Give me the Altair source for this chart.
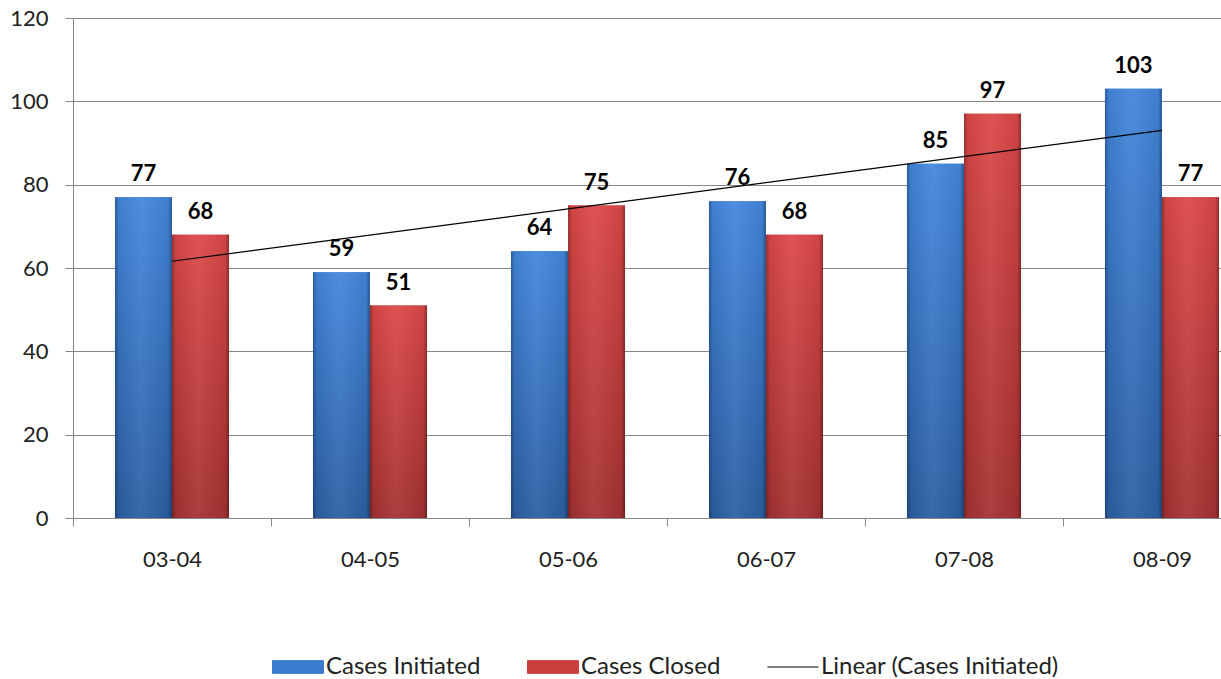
import altair as alt
import pandas as pd

periods = ["03-04", "04-05", "05-06", "06-07", "07-08", "08-09"]
initiated = [77, 59, 64, 76, 85, 103]
closed = [68, 51, 75, 68, 97, 77]
series_names = ["Cases Initiated", "Cases Closed"]
trend_name = "Linear (Cases Initiated)"

rows = []
for i, (p, a, b) in enumerate(zip(periods, initiated, closed)):
    rows.append({"period": p, "idx": i + 1, "series": series_names[0], "value": a})
    rows.append({"period": p, "idx": i + 1, "series": series_names[1], "value": b})
df = pd.DataFrame(rows)

W, H = 1148, 500
STEP = 198
FONT = "Lato"
GRID = "#878787"
TXT = "#222222"

blue_grad = {"gradient": "linear", "x1": 0, "y1": 0, "x2": 0, "y2": 1,
             "stops": [{"offset": 0, "color": "#4387dc"},
                       {"offset": 1, "color": "#2c5fa3"}]}
red_grad = {"gradient": "linear", "x1": 0, "y1": 0, "x2": 0, "y2": 1,
            "stops": [{"offset": 0, "color": "#dc4848"},
                      {"offset": 1, "color": "#a53232"}]}
edge_grad = {"gradient": "linear", "x1": 0, "y1": 0, "x2": 1, "y2": 0,
             "stops": [{"offset": 0, "color": "rgba(0,0,0,0.30)"},
                       {"offset": 0.07, "color": "rgba(0,0,0,0.06)"},
                       {"offset": 0.45, "color": "rgba(255,255,255,0.06)"},
                       {"offset": 0.93, "color": "rgba(0,0,0,0.06)"},
                       {"offset": 1, "color": "rgba(0,0,0,0.35)"}]}

x_enc = alt.X(
    "period:N", sort=periods, title=None,
    scale=alt.Scale(domain=periods, paddingInner=0.424, paddingOuter=0.111, align=0.955),
    axis=alt.Axis(bandPosition=0, tickOffset=-42, labelOffset=42, labelAngle=0,
                  labelFontSize=22, labelFont=FONT, labelColor=TXT, labelPadding=23,
                  tickSize=8, tickColor=GRID, domainColor=GRID, grid=False),
)
xoff_enc = alt.XOffset("series:N", scale=alt.Scale(domain=series_names, paddingInner=0, paddingOuter=0))
y_enc = alt.Y(
    "value:Q", title=None,
    scale=alt.Scale(domain=[0, 120], nice=False),
    axis=alt.Axis(values=[0, 20, 40, 60, 80, 100, 120], labelFontSize=22, labelFont=FONT,
                  labelColor=TXT, labelPadding=17, tickSize=8, tickColor=GRID,
                  domainColor=GRID, gridColor=GRID, grid=True),
)
color_enc = alt.Color(
    "series:N",
    scale=alt.Scale(domain=series_names + [trend_name], range=["#3b7bd0", "#cc3d3d", "#000000"]),
    legend=alt.Legend(
        title=None, orient="none", direction="horizontal", legendX=199, legendY=623,
        symbolType={"expr": f"datum.value === '{trend_name}' ? 'M-1,0H1' : 'M-1,-0.25H1V0.25H-1Z'"},
        symbolSize=2600, symbolStrokeWidth=1, symbolOpacity=1, labelLimit=400,
        labelFontSize=24, labelFont=FONT, labelColor=TXT, columnPadding=44, labelOffset=2,
    ),
)

base = alt.Chart(df)
bars_flat = base.mark_bar().encode(x=x_enc, xOffset=xoff_enc, y=y_enc, color=color_enc)
bars_blue = base.transform_filter(alt.datum.series == series_names[0]).mark_bar(fill=blue_grad).encode(
    x=x_enc, xOffset=xoff_enc, y=y_enc)
bars_red = base.transform_filter(alt.datum.series == series_names[1]).mark_bar(fill=red_grad).encode(
    x=x_enc, xOffset=xoff_enc, y=y_enc)
bars_edge = base.mark_bar(fill=edge_grad).encode(x=x_enc, xOffset=xoff_enc, y=y_enc)
labels = base.mark_text(font=FONT, fontSize=22, fontWeight="bold", baseline="alphabetic",
                        dy=-16, color="black").encode(x=x_enc, xOffset=xoff_enc, y=y_enc, text="value:Q")

bars_group = alt.layer(bars_flat, bars_blue, bars_red, bars_edge, labels)

trend = (
    base.transform_filter(alt.datum.series == series_names[0])
    .transform_regression("idx", "value", method="linear", extent=[1, 6])
    .transform_calculate(series=f"'{trend_name}'")
    .mark_line(strokeWidth=1.2)
    .encode(
        x=alt.X("idx:Q", scale=alt.Scale(domain=[0.5, 0.5 + W / STEP], nice=False, zero=False), axis=None),
        y=alt.Y("value:Q", scale=alt.Scale(domain=[0, 120], nice=False)),
        color=color_enc,
    )
)

chart = (
    alt.layer(bars_group, trend)
    .resolve_scale(x="independent")
    .properties(width=W, height=H, autosize=alt.AutoSizeParams(type="none"),
                padding={"left": 73, "top": 18, "right": 0, "bottom": 161})
    .configure_view(stroke=None)
)

chart.save("out.html", embed_options={"renderer": "svg", "actions": False})
